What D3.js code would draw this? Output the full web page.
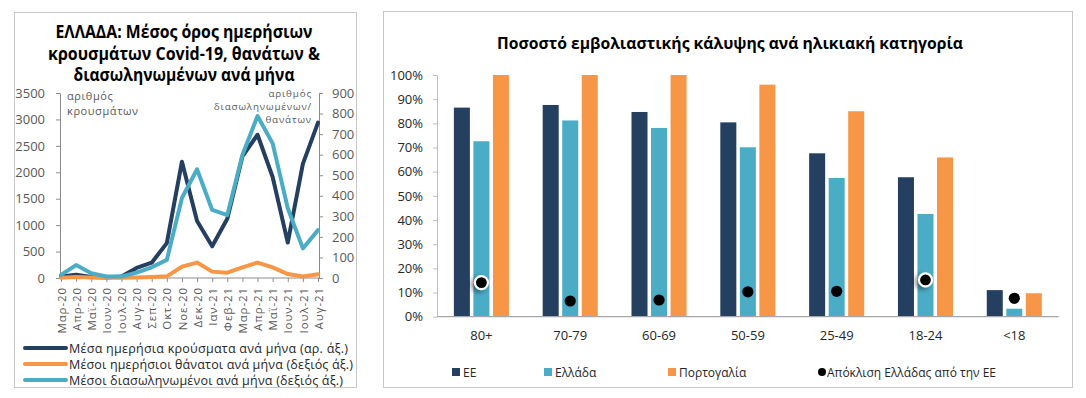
<!DOCTYPE html>
<html>
<head>
<meta charset="utf-8">
<script src="https://cdn.jsdelivr.net/npm/d3@7"></script>
<style>
  html, body { margin: 0; padding: 0; background: #fff; }
  svg { display: block; }
  text { font-family: "Open Sans", "Liberation Sans", sans-serif; }
</style>
</head>
<body>
<svg id="chart" width="1086" height="398"></svg>
<script>
// ---------- DATA: left chart ----------
const months = ["Μαρ-20","Απρ-20","Μαϊ-20","Ιουν-20","Ιουλ-20","Αυγ-20","Σεπ-20","Οκτ-20","Νοε-20","Δεκ-20",
                "Ιαν-21","Φεβ-21","Μαρ-21","Απρ-21","Μαϊ-21","Ιουν-21","Ιουλ-21","Αυγ-21"];
const cases      = [30, 60, 20, 10, 30, 190, 290, 660, 2200, 1080, 600, 1120, 2300, 2710, 1910, 670, 2160, 2940];
const deaths     = [1, 5, 2, 1, 1, 3, 5, 8, 55, 75, 31, 26, 52, 75, 52, 19, 7, 18];
const intubated  = [15, 63, 23, 7, 7, 26, 52, 88, 389, 529, 331, 306, 598, 788, 655, 339, 144, 233];
const leftTicks  = [0, 500, 1000, 1500, 2000, 2500, 3000, 3500];
const rightTicks = [0, 100, 200, 300, 400, 500, 600, 700, 800, 900];
const leftTitle  = ["ΕΛΛΑΔΑ: Μέσος όρος ημερήσιων", "κρουσμάτων Covid-19, θανάτων &", "διασωληνωμένων ανά μήνα"];
const lineLegend = ["Μέσα ημερήσια κρούσματα ανά μήνα (αρ. άξ.)",
                    "Μέσοι ημερήσιοι θάνατοι ανά μήνα (δεξιός άξ.)",
                    "Μέσοι διασωληνωμένοι ανά μήνα (δεξιός άξ.)"];
const leftAxisNote  = ["αριθμός","κρουσμάτων"];
const rightAxisNote = ["αριθμός","διασωληνωμένων/","θανάτων"];

// ---------- DATA: right chart ----------
const ageGroups = ["80+","70-79","60-69","50-59","25-49","18-24","<18"];
const barSeries = ["ΕΕ","Ελλάδα","Πορτογαλία"];
const euValues  = [0.865, 0.876, 0.847, 0.804, 0.676, 0.577, 0.110];
const grValues  = [0.726, 0.812, 0.781, 0.701, 0.574, 0.425, 0.033];
const ptValues  = [1.00, 1.00, 1.00, 0.960, 0.850, 0.659, 0.097];
const gapValues = [0.141, 0.065, 0.069, 0.103, 0.105, 0.152, 0.076];
const highlighted = ["80+","18-24"];
const pctTicks  = [0,0.1,0.2,0.3,0.4,0.5,0.6,0.7,0.8,0.9,1.0];
const rightTitle = "Ποσοστό εμβολιαστικής κάλυψης ανά ηλικιακή κατηγορία";
const gapLabel  = "Απόκλιση Ελλάδας από την ΕΕ";

// ---------- styles ----------
const NAVY = "#243F60", BLUE = "#4BACC6", ORANGE = "#F79646";
const svg = d3.select("#chart");

// panel borders
svg.append("rect").attr("x",14.5).attr("y",12.5).attr("width",342).attr("height",375)
  .attr("fill","none").attr("stroke","#C8C8C8");
svg.append("rect").attr("x",383.5).attr("y",11.5).attr("width",689).attr("height",376)
  .attr("fill","none").attr("stroke","#C8C8C8");

// ================= LEFT CHART =================
const L = svg.append("g");
const titleWidths = [257, 272, 221];
L.selectAll("text.title").data(leftTitle).join("text")
  .attr("x",184).attr("y",(d,i)=>38 + i*21.6)
  .attr("text-anchor","middle").attr("font-size",17.5).attr("font-weight","bold")
  .attr("font-family","'Liberation Sans', Arial, sans-serif")
  .attr("textLength",(d,i)=>titleWidths[i]).attr("lengthAdjust","spacingAndGlyphs")
  .attr("fill","#000").text(d=>d);

const xL = d3.scalePoint().domain(months).range([61, 318]);
const yL = d3.scaleLinear().domain([0,3500]).range([278, 93]);
const yR = d3.scaleLinear().domain([0,900]).range([278, 93]);

function styleAxis(g, color) {
  g.selectAll("path.domain").attr("stroke", color);
  g.selectAll(".tick line").attr("stroke", color);
  g.selectAll("text").attr("fill","#595959").attr("font-family","'Open Sans', sans-serif");
}

const axL = L.append("g").attr("transform","translate(60,0)")
  .call(d3.axisLeft(yL).tickValues(leftTicks).tickFormat(d3.format("d")).tickSize(4).tickSizeOuter(0).tickPadding(11));
axL.selectAll("text").attr("font-size",13);
styleAxis(axL, "#8C8C8C");

const axR = L.append("g").attr("transform","translate(319,0)")
  .call(d3.axisRight(yR).tickValues(rightTicks).tickFormat(d3.format("d")).tickSize(4).tickSizeOuter(0).tickPadding(9));
axR.selectAll("text").attr("font-size",13);
styleAxis(axR, "#8C8C8C");

const axB = L.append("g").attr("transform","translate(0,278)")
  .call(d3.axisBottom(xL).tickSize(4).tickSizeOuter(0));
axB.select("path.domain").attr("d","M60,0H319");
axB.selectAll("text").attr("font-size",11.5).attr("letter-spacing",0.9)
  .attr("transform","rotate(-90)").attr("x",-9).attr("y",0).attr("dy","0.36em")
  .style("text-anchor","end");
styleAxis(axB, "#8C8C8C");

// axis annotations
leftAxisNote.forEach((t,i)=>{
  L.append("text").attr("x",67).attr("y",100 + i*15).attr("font-size",11).attr("fill","#595959")
    .attr("letter-spacing",0.6).text(t);
});
rightAxisNote.forEach((t,i)=>{
  L.append("text").attr("x",312).attr("y",97 + i*12.8).attr("text-anchor","end")
    .attr("font-family","'Liberation Sans', Arial, sans-serif")
    .attr("font-size",9.8).attr("fill","#595959").attr("letter-spacing",0.85).text(t);
});

const lineL = d3.line().x((d,i)=>xL(months[i])).y(d=>yL(d));
const lineR = d3.line().x((d,i)=>xL(months[i])).y(d=>yR(d));
L.append("path").datum(cases).attr("d",lineL).attr("fill","none")
  .attr("stroke",NAVY).attr("stroke-width",4).attr("stroke-linejoin","round").attr("stroke-linecap","round");
L.append("path").datum(deaths).attr("d",lineR).attr("fill","none")
  .attr("stroke",ORANGE).attr("stroke-width",4).attr("stroke-linejoin","round").attr("stroke-linecap","round");
L.append("path").datum(intubated).attr("d",lineR).attr("fill","none")
  .attr("stroke",BLUE).attr("stroke-width",4).attr("stroke-linejoin","round").attr("stroke-linecap","round");

// legend
const legColors = [NAVY, ORANGE, BLUE];
const legWidths = [279, 284, 274];
lineLegend.forEach((t,i)=>{
  const y = 348 + i*16;
  L.append("line").attr("x1",25).attr("x2",66).attr("y1",y).attr("y2",y)
    .attr("stroke",legColors[i]).attr("stroke-width",4).attr("stroke-linecap","round");
  L.append("text").attr("x",69).attr("y",y+4.5).attr("font-size",12.5).attr("fill","#262626")
    .attr("textLength",legWidths[i]).attr("lengthAdjust","spacing").text(t);
});

// ================= RIGHT CHART =================
const R = svg.append("g");
R.append("text").attr("x",730).attr("y",49).attr("text-anchor","middle")
  .attr("font-family","'Liberation Sans', Arial, sans-serif")
  .attr("font-size",16).attr("font-weight","bold").attr("fill","#000")
  .attr("textLength",466).attr("lengthAdjust","spacingAndGlyphs").text(rightTitle);

const x0 = d3.scaleBand().domain(ageGroups).range([437, 1058.7]).paddingInner(0.38).paddingOuter(0.19);
const x1 = d3.scaleBand().domain(barSeries).range([0, x0.bandwidth()]).paddingInner(0.18);
const y = d3.scaleLinear().domain([0,1]).range([316.7, 75]);

const axY = R.append("g").attr("transform","translate(437,0)")
  .call(d3.axisLeft(y).tickValues(pctTicks).tickFormat(d3.format(".0%")).tickSize(4).tickSizeOuter(0).tickPadding(10));
axY.selectAll("text").attr("font-size",13).attr("fill","#262626");
axY.selectAll("path.domain, .tick line").attr("stroke","#BFBFBF");

const seriesVals = [euValues, grValues, ptValues];
const seriesCols = [NAVY, BLUE, ORANGE];
const barData = [];
ageGroups.forEach((g,gi)=>barSeries.forEach((s,si)=>barData.push({g, s, v: seriesVals[si][gi], c: seriesCols[si]})));
R.selectAll("rect.bar").data(barData).join("rect").attr("class","bar")
  .attr("x",d=>x0(d.g)+x1(d.s)).attr("width",x1.bandwidth())
  .attr("y",d=>y(d.v)).attr("height",d=>y(0)-y(d.v)).attr("fill",d=>d.c);

const axX = R.append("g").attr("transform","translate(0,316.7)")
  .call(d3.axisBottom(x0).tickSize(0).tickPadding(14));
axX.select("path.domain").attr("d","M437,0H1058.7").attr("stroke","#A6A6A6").attr("stroke-width",1.3);
axX.selectAll("text").attr("font-size",13).attr("fill","#262626");

// shadow filter
const defs = svg.append("defs");
const f = defs.append("filter").attr("id","sh").attr("x","-100%").attr("y","-100%").attr("width","300%").attr("height","300%");
f.append("feDropShadow").attr("dx",-3).attr("dy",2).attr("stdDeviation",2.5).attr("flood-color","#000").attr("flood-opacity",0.45);

const dotX = g => x0(g) + x1("Ελλάδα") + x1.bandwidth()/2;
R.selectAll("circle.gap").data(ageGroups).join("circle").attr("class","gap")
  .attr("cx",d=>dotX(d)).attr("cy",(d,i)=>y(gapValues[i]))
  .attr("r",d=>highlighted.includes(d) ? 6.5 : 5.6)
  .attr("fill","#000")
  .attr("stroke",d=>highlighted.includes(d) ? "#fff" : "none")
  .attr("stroke-width",2.2)
  .attr("filter",d=>highlighted.includes(d) ? "url(#sh)" : null);

// legend
const legX = [452, 544, 668];
barSeries.forEach((s,i)=>{
  R.append("rect").attr("x",legX[i]).attr("y",368).attr("width",8).attr("height",8).attr("fill",seriesCols[i]);
  R.append("text").attr("x",legX[i]+11).attr("y",376.5).attr("font-size",12).attr("fill","#262626").text(s);
});
R.append("circle").attr("cx",822).attr("cy",372).attr("r",4).attr("fill","#000");
R.append("text").attr("x",827).attr("y",376.5).attr("font-size",12).attr("fill","#262626").text(gapLabel);
</script>
</body>
</html>
